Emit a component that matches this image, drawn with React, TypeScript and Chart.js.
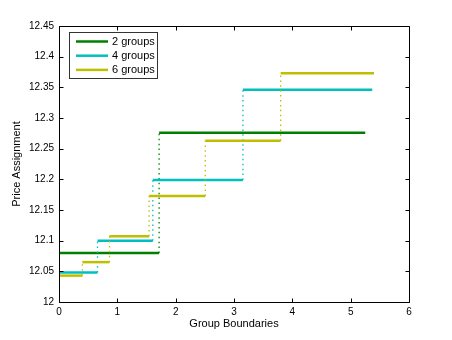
import React, { useEffect, useRef } from "react";
import { Chart, registerables } from "chart.js";

Chart.register(...registerables);

// ---- data ----
const seriesLabels = ["2 groups", "4 groups", "6 groups"];
const seriesColors = ["rgb(0,128,0)", "rgb(0,191,191)", "rgb(191,191,0)"];

const bounds2 = [0, 1.716, 5.25];
const levels2 = [12.08, 12.276];
const bounds4 = [0, 0.66, 1.608, 3.153, 5.37];
const levels4 = [12.048, 12.1, 12.199, 12.346];
const bounds6 = [0, 0.4, 0.866, 1.545, 2.508, 3.8, 5.4];
const levels6 = [12.043, 12.065, 12.107, 12.173, 12.263, 12.373];

const xTicks = [0, 1, 2, 3, 4, 5, 6];
const xTickLabels = ["0", "1", "2", "3", "4", "5", "6"];
const yTicks = [12, 12.05, 12.1, 12.15, 12.2, 12.25, 12.3, 12.35, 12.4, 12.45];
const yTickLabels = ["12", "12.05", "12.1", "12.15", "12.2", "12.25", "12.3", "12.35", "12.4", "12.45"];

const xTitle = "Group Boundaries";
const yTitle = "Price Assignment";

const FONT = "'Liberation Sans', Arial, Helvetica, sans-serif";

function stepPoints(bounds: number[], levels: number[]) {
  const pts: { x: number; y: number }[] = [];
  for (let i = 0; i < levels.length; i++) {
    pts.push({ x: bounds[i], y: levels[i] });
    pts.push({ x: bounds[i + 1], y: levels[i] });
  }
  return pts;
}

const framePlugin = {
  id: "frame",
  afterDatasetsDraw(chart: any) {
    const { ctx, chartArea, scales } = chart;
    const { left, right, top, bottom } = chartArea;
    const xs = scales.x;
    const ys = scales.y;
    ctx.save();
    ctx.strokeStyle = "#000";
    ctx.lineWidth = 1;
    const L = Math.round(left) + 0.5;
    const R = Math.round(right) + 0.5;
    const T = Math.round(top) + 0.5;
    const B = Math.round(bottom) + 0.5;
    ctx.beginPath();
    ctx.rect(L, T, R - L, B - T);
    ctx.stroke();
    const tl = 4;
    ctx.beginPath();
    xTicks.forEach((v) => {
      const px = Math.round(xs.getPixelForValue(v)) + 0.5;
      ctx.moveTo(px, B);
      ctx.lineTo(px, B - tl);
      ctx.moveTo(px, T);
      ctx.lineTo(px, T + tl);
    });
    yTicks.forEach((v) => {
      const py = Math.round(ys.getPixelForValue(v)) + 0.5;
      ctx.moveTo(L, py);
      ctx.lineTo(L + tl, py);
      ctx.moveTo(R, py);
      ctx.lineTo(R - tl, py);
    });
    ctx.stroke();

    // legend
    const lx = 69.5, ly = 32.5, lw = 88, lh = 46;
    ctx.fillStyle = "#fff";
    ctx.fillRect(lx, ly, lw, lh);
    ctx.strokeStyle = "#333";
    ctx.strokeRect(lx, ly, lw, lh);
    ctx.font = `11px ${FONT}`;
    ctx.textBaseline = "middle";
    ctx.textAlign = "left";
    chart.data.datasets.forEach((ds: any, i: number) => {
      const yy = 41.5 + i * 14.2;
      ctx.strokeStyle = ds.borderColor;
      ctx.lineWidth = 2.5;
      ctx.beginPath();
      ctx.moveTo(76, yy);
      ctx.lineTo(108, yy);
      ctx.stroke();
      ctx.fillStyle = "#000";
      ctx.fillText(ds.label, 112, yy + 0.5);
    });
    ctx.restore();
  },
};

export default function App() {
  const ref = useRef<HTMLCanvasElement | null>(null);
  useEffect(() => {
    if (!ref.current) return;
    const allBounds = [bounds2, bounds4, bounds6];
    const allLevels = [levels2, levels4, levels6];
    const datasets = seriesLabels.map((label, i) => ({
      label,
      data: stepPoints(allBounds[i], allLevels[i]),
      borderColor: seriesColors[i],
      backgroundColor: seriesColors[i],
      borderWidth: 2.5,
      pointRadius: 0,
      tension: 0,
      fill: false,
      order: seriesLabels.length - i,
      borderCapStyle: "butt",
      segment: {
        borderDash: (c: any) => (c.p0.parsed.x === c.p1.parsed.x ? [1.5, 3.4] : undefined),
        borderWidth: (c: any) => (c.p0.parsed.x === c.p1.parsed.x ? 1.3 : undefined),
      },
    }));
    const chart = new Chart(ref.current, {
      type: "line",
      data: { datasets } as any,
      options: {
        animation: false,
        responsive: false,
        devicePixelRatio: 1,
        layout: { padding: { top: 26, right: 43, left: 0, bottom: 0 } },
        plugins: { legend: { display: false }, tooltip: { enabled: false } },
        scales: {
          x: {
            type: "linear",
            min: 0,
            max: 6,
            grid: { display: false, drawTicks: false },
            border: { display: false },
            afterBuildTicks: (s: any) => {
              s.ticks = xTicks.map((v) => ({ value: v }));
            },
            afterFit: (s: any) => {
              s.height = 38;
            },
            ticks: {
              autoSkip: false,
              maxRotation: 0,
              padding: 4,
              color: "#000",
              font: { family: FONT, size: 10 },
              callback: (v: any) => {
                const idx = xTicks.indexOf(Number(v));
                return idx >= 0 ? xTickLabels[idx] : "";
              },
            },
            title: {
              display: true,
              text: xTitle,
              color: "#000",
              font: { family: FONT, size: 11 },
              padding: { top: 0, bottom: 9 },
            },
          },
          y: {
            type: "linear",
            min: 12,
            max: 12.45,
            grid: { display: false, drawTicks: false },
            border: { display: false },
            afterBuildTicks: (s: any) => {
              s.ticks = yTicks.map((v) => ({ value: v }));
            },
            afterFit: (s: any) => {
              s.width = 59;
            },
            ticks: {
              autoSkip: false,
              padding: 5,
              color: "#000",
              font: { family: FONT, size: 10 },
              callback: function (this: any, v: any, idx: number) {
                return yTickLabels[idx] ?? "";
              },
            },
            title: {
              display: true,
              text: yTitle,
              color: "#000",
              font: { family: FONT, size: 11 },
              padding: { top: 10, bottom: 0 },
            },
          },
        },
      } as any,
      plugins: [framePlugin],
    });
    return () => chart.destroy();
  }, []);
  return (
    <div style={{ position: "absolute", left: 0, top: 0, width: 452, height: 340, background: "#fff" }}>
      <canvas ref={ref} width={452} height={340} />
    </div>
  );
}
